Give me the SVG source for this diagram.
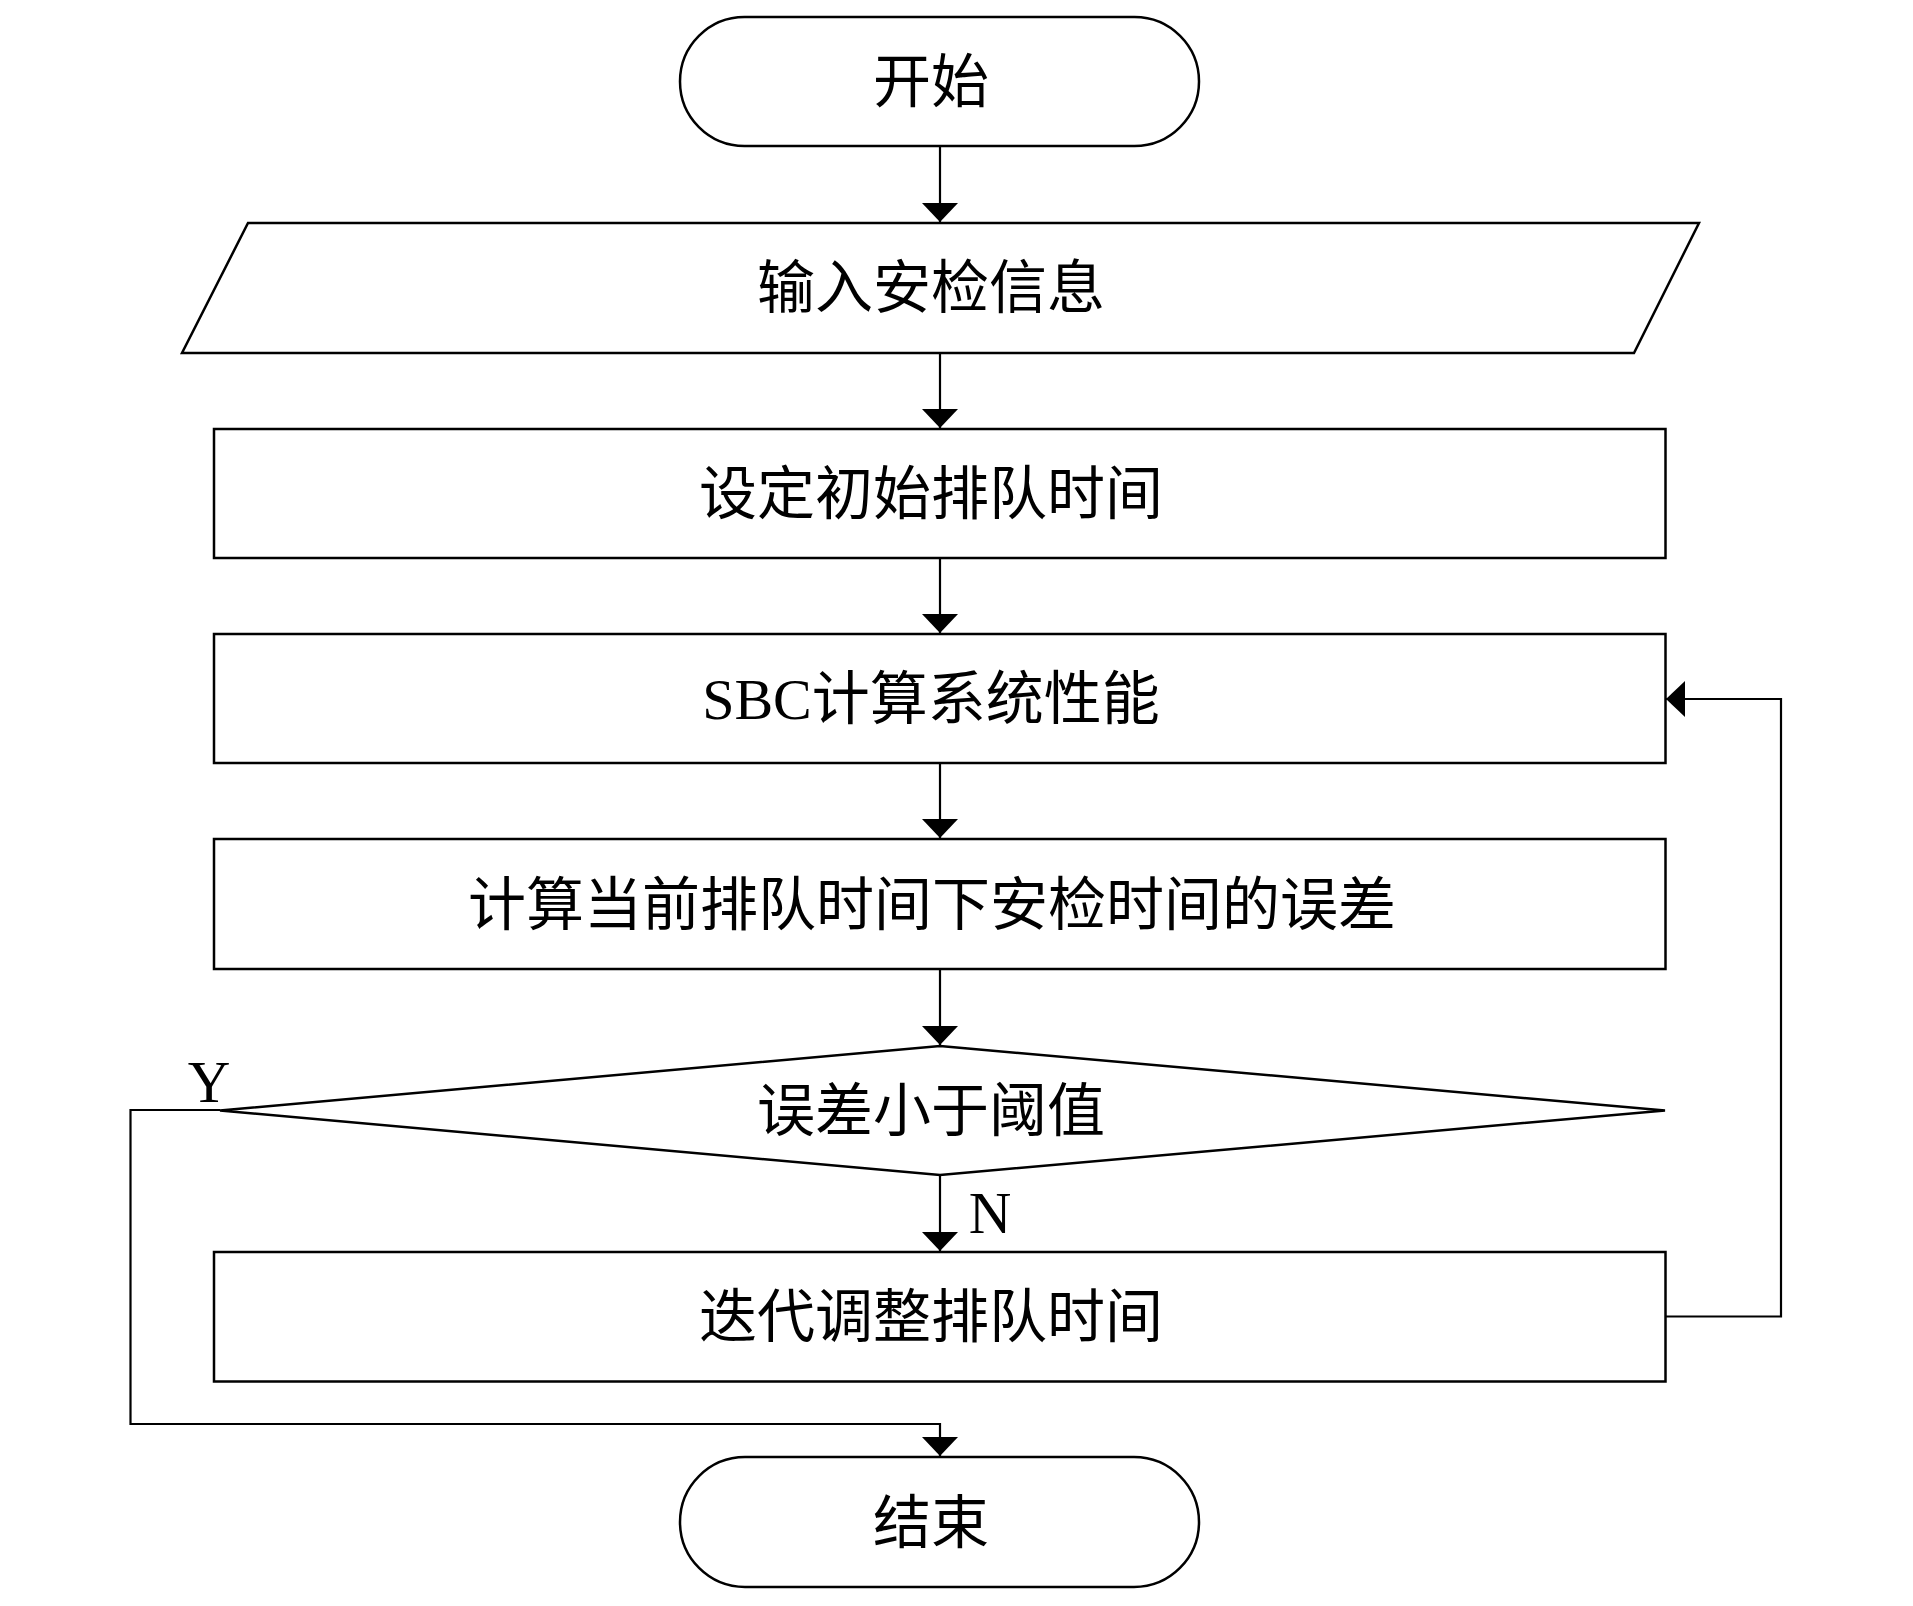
<svg xmlns="http://www.w3.org/2000/svg" width="1913" height="1606" viewBox="0 0 1913 1606">
<style>
.shape{fill:#fff;stroke:#000;stroke-width:2.5}
.conn{fill:none;stroke:#000;stroke-width:2.2}
.t{font-family:"Liberation Serif","Noto Sans CJK SC",serif;font-size:58px;fill:#000;text-anchor:middle}
.lbl{font-family:"Liberation Serif",serif;font-size:59px;fill:#000;text-anchor:middle}
</style>
<defs>
<marker id="arr" markerUnits="userSpaceOnUse" markerWidth="20" markerHeight="36" refX="19" refY="18" orient="auto">
<path d="M0,0 L19,18 L0,36 Z" fill="#000"/>
</marker>
</defs>
<rect width="1913" height="1606" fill="#fff"/>
<g id="connectors">
<line class="conn" x1="940" y1="146" x2="940" y2="222" marker-end="url(#arr)"/>
<line class="conn" x1="940" y1="353" x2="940" y2="428" marker-end="url(#arr)"/>
<line class="conn" x1="940" y1="558" x2="940" y2="633" marker-end="url(#arr)"/>
<line class="conn" x1="940" y1="763" x2="940" y2="838" marker-end="url(#arr)"/>
<line class="conn" x1="940" y1="969" x2="940" y2="1045" marker-end="url(#arr)"/>
<line class="conn" x1="940" y1="1175" x2="940" y2="1251" marker-end="url(#arr)"/>
<polyline class="conn" points="1665,1316.5 1781,1316.5 1781,699 1666,699" marker-end="url(#arr)"/>
<polyline class="conn" points="220,1110 130.5,1110 130.5,1424 940,1424 940,1456" marker-end="url(#arr)"/>
<text class="lbl" x="209" y="1102">Y</text>
<text class="lbl" x="990" y="1233">N</text>
</g>
<g id="start">
<rect class="shape" x="680" y="17" width="519" height="129" rx="64.5" ry="64.5"/>
<text class="t" x="931" y="102">开始</text>
</g>
<g id="input">
<polygon class="shape" points="248,223 1699,223 1634,353 182,353"/>
<text class="t" x="931" y="308">输入安检信息</text>
</g>
<g id="init">
<rect class="shape" x="214" y="429" width="1451.5" height="129"/>
<text class="t" x="931" y="514">设定初始排队时间</text>
</g>
<g id="sbc">
<rect class="shape" x="214" y="634" width="1451.5" height="129"/>
<text class="t" x="931" y="719">SBC计算系统性能</text>
</g>
<g id="error">
<rect class="shape" x="214" y="839" width="1451.5" height="130"/>
<text class="t" x="932" y="925">计算当前排队时间下安检时间的误差</text>
</g>
<g id="decision">
<polygon class="shape" points="940,1046 1665,1110.5 940,1175 220,1110.5"/>
<text class="t" x="931" y="1131">误差小于阈值</text>
</g>
<g id="adjust">
<rect class="shape" x="214" y="1252" width="1451.5" height="129.5"/>
<text class="t" x="931" y="1337">迭代调整排队时间</text>
</g>
<g id="end">
<rect class="shape" x="680" y="1457" width="519" height="130" rx="65" ry="65"/>
<text class="t" x="931" y="1543">结束</text>
</g>
</svg>
